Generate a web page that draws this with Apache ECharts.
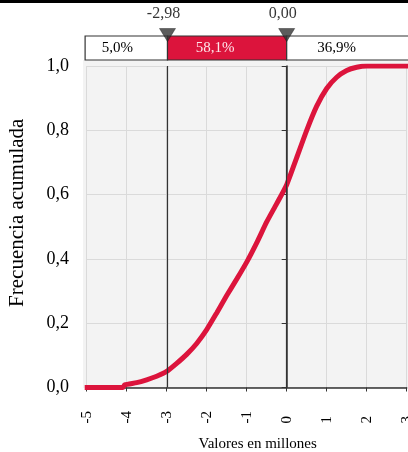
<!DOCTYPE html>
<html>
<head>
<meta charset="utf-8">
<script src="https://cdn.jsdelivr.net/npm/echarts@6/dist/echarts.min.js"></script>
<style>
  html, body { margin: 0; padding: 0; background: #fff; }
  #chart { width: 408px; height: 452px; }
</style>
</head>
<body>
<div id="chart"></div>
<script>
// Cumulative distribution of simulated values (millions)
const xValues = [-5.05, -4.1, -4.05, -3.75, -3.5, -3.25, -3.0, -2.75, -2.5, -2.25, -2.0, -1.75,
  -1.5, -1.25, -1.0, -0.75, -0.5, -0.25, 0.0, 0.25, 0.5, 0.75, 1.0, 1.25, 1.5, 1.75, 2.0, 3.1];
const cumFreq = [0.0, 0.0, 0.008, 0.015, 0.024, 0.035, 0.05, 0.075, 0.103, 0.137, 0.18, 0.232,
  0.286, 0.337, 0.39, 0.45, 0.515, 0.572, 0.631, 0.715, 0.80, 0.875, 0.93, 0.965, 0.986, 0.996, 1.0, 1.0];

// Cut-off markers and the share of outcomes in each band
const cutoffs = [-2.98, 0.0];
const bandShares = [5.0, 58.1, 36.9];
const xTicks = [-5, -4, -3, -2, -1, 0, 1, 2, 3];
const yTicks = [0, 0.2, 0.4, 0.6, 0.8, 1.0];

const RED = '#dc143c';
const SERIF = 'Liberation Serif, Times New Roman, serif';
const comma = (v, d) => v.toFixed(d).replace('.', ',');

const chart = echarts.init(document.getElementById('chart'));

const curve = xValues.map((x, i) => [x, cumFreq[i]]);
const bandEdges = [xValues[0] + 0.01, ...cutoffs, xValues[xValues.length - 1]];
const bands = bandShares.map((s, i) => [bandEdges[i], bandEdges[i + 1], s, i]);

chart.setOption({
  animation: false,
  backgroundColor: '#fff',
  graphic: [
    { type: 'rect', left: 0, top: 0, shape: { width: 408, height: 3 }, style: { fill: '#000' } },
    { type: 'rect', z: -10, left: 83, top: 60, shape: { width: 325, height: 328 }, style: { fill: '#f3f3f3' } }
  ],
  grid: [
    { left: 86.7, right: 1.3, top: 66, bottom: 64.5, show: true, backgroundColor: '#f3f3f3',
      borderWidth: 0, containLabel: false, outerBoundsMode: 'none' },
    { left: 86.7, right: 1.3, top: 36, height: 24, containLabel: false, outerBoundsMode: 'none' }
  ],
  xAxis: [
    {
      type: 'value', gridIndex: 0, min: xTicks[0], max: xTicks[xTicks.length - 1], interval: 1,
      name: 'Valores en millones', nameLocation: 'middle', nameGap: 49,
      nameTextStyle: { fontFamily: SERIF, fontSize: 15, color: '#000', padding: [0, 0, 0, 22] },
      axisLine: { show: true, onZero: false, lineStyle: { color: '#333', width: 1.5 } },
      axisTick: { show: true, length: 4, lineStyle: { color: '#333' } },
      axisLabel: {
        rotate: 90, align: 'left', verticalAlign: 'middle', margin: 36,
        fontFamily: SERIF, fontSize: 15, color: '#000',
        formatter: v => String(v)
      },
      splitLine: { show: true, lineStyle: { color: '#dadada', width: 1 } }
    },
    {
      type: 'value', gridIndex: 1, min: xTicks[0], max: xTicks[xTicks.length - 1], interval: 1,
      show: false
    }
  ],
  yAxis: [
    {
      type: 'value', gridIndex: 0, min: yTicks[0], max: yTicks[yTicks.length - 1], interval: 0.2, offset: 3.7,
      name: 'Frecuencia acumulada', nameLocation: 'middle', nameGap: 55, nameRotate: 90,
      nameTextStyle: { fontFamily: SERIF, fontSize: 21, color: '#000', padding: [0, 0, 0, 28] },
      axisLine: { show: true, lineStyle: { color: '#333', width: 1.5 } },
      axisTick: { show: true, length: 5, lineStyle: { color: '#333' } },
      axisLabel: {
        margin: 14, fontFamily: SERIF, fontSize: 18, color: '#000',
        formatter: v => comma(v, 1)
      },
      splitLine: { show: true, lineStyle: { color: '#dadada', width: 1 } }
    },
    { type: 'value', gridIndex: 1, min: 0, max: 1, show: false }
  ],
  series: [
    {
      type: 'line', xAxisIndex: 0, yAxisIndex: 0, data: curve,
      symbol: 'none', smooth: 0.2,
      lineStyle: { color: RED, width: 5 },
      z: 3,
      markLine: {
        silent: true, symbol: 'none', label: { show: false },
        lineStyle: { color: '#333', width: 1.2, type: 'solid' },
        data: cutoffs.map(c => ({ xAxis: c }))
      }
    },
    {
      type: 'custom', xAxisIndex: 1, yAxisIndex: 1, data: bands, clip: false,
      renderItem: (params, api) => {
        const p0 = api.coord([api.value(0), 1]);
        const p1 = api.coord([api.value(1), 0]);
        const idx = api.value(3);
        const mid = idx === 1;
        return {
          type: 'rect',
          shape: { x: p0[0], y: p0[1], width: p1[0] - p0[0], height: p1[1] - p0[1] },
          style: { fill: mid ? RED : '#fff', stroke: '#333', lineWidth: 1.2 },
          textContent: {
            style: {
              text: comma(api.value(2), 1) + '%',
              fill: mid ? '#fde6ea' : '#000',
              fontFamily: SERIF, fontSize: 15
            }
          },
          textConfig: { position: 'inside', offset: [idx === 0 ? -9 : -12, 0] }
        };
      },
      z: 2
    },
    {
      type: 'scatter', xAxisIndex: 1, yAxisIndex: 1,
      data: cutoffs.map(c => [c, 1]),
      symbol: 'triangle', symbolRotate: 180, symbolSize: [16, 13], symbolOffset: [0, -1],
      itemStyle: { color: '#333', borderColor: '#111', borderWidth: 0.5 },
      label: {
        show: true, position: 'top', distance: 6, offset: [-4, 0],
        fontFamily: SERIF, fontSize: 16, color: '#000',
        formatter: p => comma(p.value[0], 2)
      },
      z: 5
    }
  ]
});
</script>
</body>
</html>
